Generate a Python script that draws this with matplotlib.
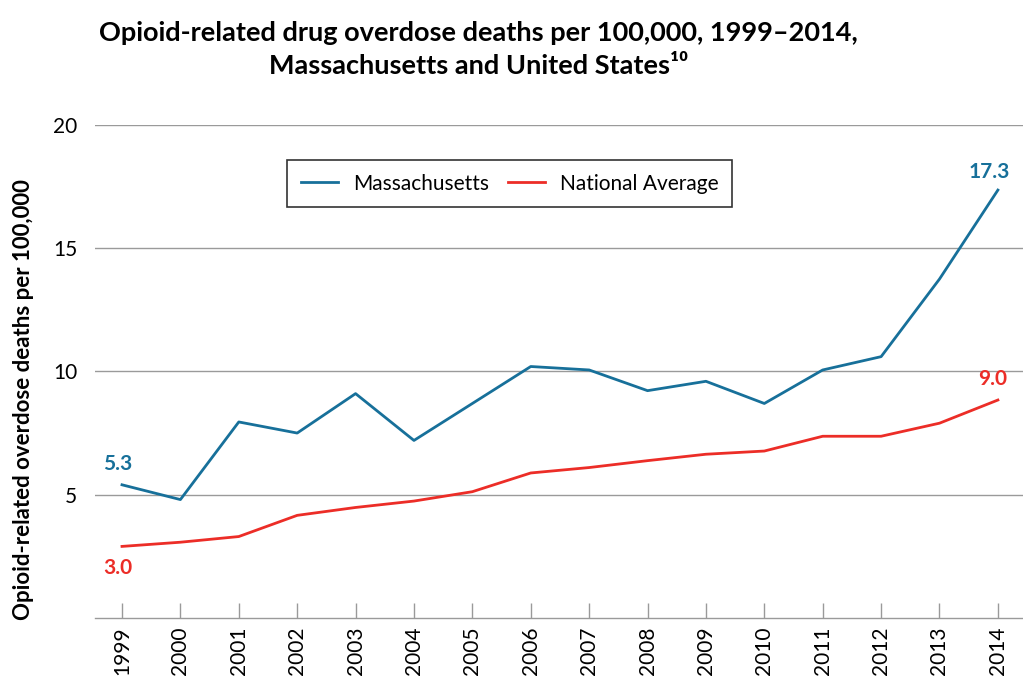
import matplotlib
matplotlib.use("Agg")
import matplotlib.pyplot as plt

# Data
years = list(range(1999, 2015))
massachusetts = [5.4, 4.8, 7.95, 7.5, 9.1, 7.2, 8.7, 10.2, 10.06, 9.22, 9.6, 8.7, 10.06, 10.6, 13.75, 17.36]
national = [2.9, 3.07, 3.3, 4.16, 4.48, 4.74, 5.12, 5.88, 6.1, 6.38, 6.64, 6.77, 7.37, 7.37, 7.9, 8.84]
ma_labels = {1999: "5.3", 2014: "17.3"}
us_labels = {1999: "3.0", 2014: "9.0"}

BLUE = "#17709a"
RED = "#ec2d27"
GRID = "#9a9a9a"

plt.rcParams["font.family"] = ["Lato", "DejaVu Sans"]

fig = plt.figure(figsize=(10.23, 6.85), dpi=100)
ax = fig.add_axes([0.093, 0.098, 0.907, 0.7195])

ax.plot(years, massachusetts, color=BLUE, lw=2.0, label="Massachusetts")
ax.plot(years, national, color=RED, lw=2.0, label="National Average")

ax.set_xlim(1998.54, 2014.43)
ax.set_ylim(0, 20)
ax.set_yticks([5, 10, 15, 20])
ax.set_xticks(years)
ax.set_xticklabels([str(y) for y in years], rotation=90, fontsize=15)
ax.tick_params(axis="y", length=0, labelsize=15, pad=13)
ax.tick_params(axis="x", direction="in", length=11, color=GRID, width=1, pad=6)
ax.grid(axis="y", color=GRID, lw=1)
ax.set_axisbelow(True)
for side in ("left", "right", "top"):
    ax.spines[side].set_visible(False)
ax.spines["bottom"].set_color(GRID)
ax.spines["bottom"].set_linewidth(1)

# y label placed in figure coords so it sits at the left edge like the reference
fig.text(0.023, 0.416, "Opioid-related overdose deaths per 100,000", rotation=90,
         ha="center", va="center", fontsize=16, fontweight="bold")

# End-point labels
for yr, txt in ma_labels.items():
    v = massachusetts[years.index(yr)]
    off = (-3, 8) if yr == 1999 else (-6, 6)
    ax.annotate(txt, (yr, v), xytext=off, textcoords="offset points",
                ha="center", va="bottom", color=BLUE, fontsize=15, fontweight="bold")
for yr, txt in us_labels.items():
    v = national[years.index(yr)]
    off = (-3, -8) if yr == 1999 else (-4, 8)
    va = "top" if yr == 1999 else "bottom"
    ax.annotate(txt, (yr, v), xytext=off, textcoords="offset points",
                ha="center", va=va, color=RED, fontsize=15, fontweight="bold")

leg = ax.legend(loc="upper left", bbox_to_anchor=(0.207, 0.929), ncol=2,
                fontsize=15, frameon=True, fancybox=False, edgecolor="black",
                handlelength=1.8, handletextpad=0.7, columnspacing=0.9,
                borderpad=0.65, borderaxespad=0)
leg.get_frame().set_linewidth(1.2)

fig.text(0.468, 0.952, "Opioid-related drug overdose deaths per 100,000, 1999\u20132014,",
         ha="center", va="center", fontsize=19.5, fontweight="bold")
fig.text(0.468, 0.903, "Massachusetts and United States\u00b9\u2070",
         ha="center", va="center", fontsize=19.5, fontweight="bold")

fig.savefig("out.png", dpi=100)
